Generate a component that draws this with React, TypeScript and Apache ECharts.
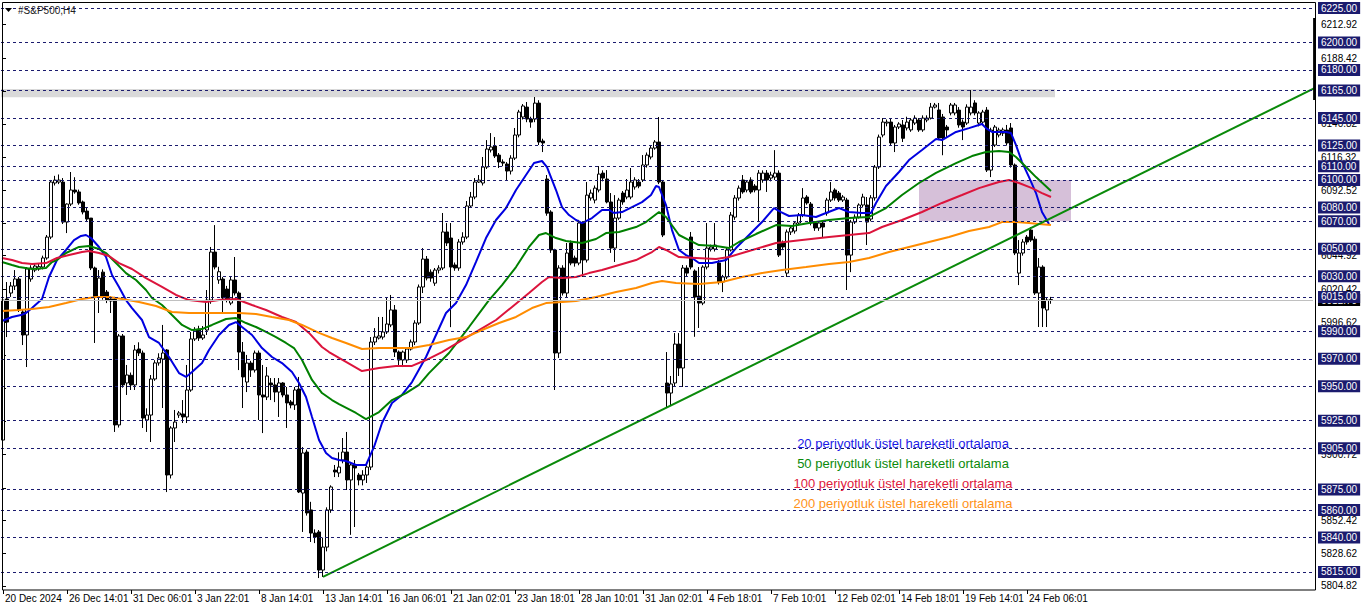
import React, { useEffect, useRef } from "react";
import * as echarts from "echarts";

const FONT = '"Liberation Sans", Arial, sans-serif';

// x-axis time labels, one every 16 bars
const timeLabels = [
  "20 Dec 2024", "26 Dec 14:01", "31 Dec 06:01", "3 Jan 22:01", "8 Jan 14:01",
  "13 Jan 14:01", "16 Jan 06:01", "21 Jan 02:01", "23 Jan 18:01", "28 Jan 10:01",
  "31 Jan 02:01", "4 Feb 18:01", "7 Feb 10:01", "12 Feb 02:01", "14 Feb 18:01",
  "19 Feb 14:01", "24 Feb 06:01",
];
const labelStep = 16;
const barSlots = 328;

// price scale
const yMin = 5801.9;
const yMax = 6229.4;
const levelPrices = [6225, 6200, 6180, 6165, 6145, 6125, 6110, 6100, 6080, 6070, 6050, 6030, 6015, 5990, 5970, 5950, 5925, 5905, 5875, 5860, 5840, 5815];
const autoTicks = [6212.92, 6188.42, 6164.62, 6140.82, 6116.32, 6092.52, 6068.72, 6044.92, 6020.42, 5996.62, 5972.82, 5948.32, 5924.52, 5900.72, 5876.22, 5852.42, 5828.62, 5804.82];
const autoLabels = [6212.92, 6188.42, 6140.82, 6116.32, 6092.52, 6044.92, 6020.42, 5996.62, 5900.72, 5852.42, 5828.62, 5804.82];
const bidPrice = 6012.7;

// H4 candles: [open, close, low, high]
const candles = [
  [5910.9, 6012.7, 5909, 6014], [6013.5, 5996.7, 5985.8, 6025.8], [6017.8, 6022.9, 6015, 6025.8], [6022.9, 6028, 6020, 6034.5],
  [6028, 6005.5, 6004, 6029.5], [6004, 5987.3, 5980, 6005.5], [5987.3, 6035.3, 5964, 6036.7], [6028, 6036, 6026, 6038],
  [6034.5, 6037.4, 6033, 6039], [6035.3, 6037, 6034, 6039], [6036.7, 6043.3, 6035, 6045], [6043.3, 6058.5, 6042, 6060],
  [6058.5, 6098.5, 6057, 6100], [6097.8, 6099.9, 6096, 6103], [6098.5, 6099.9, 6097, 6104], [6098.5, 6069.4, 6068, 6101.4],
  [6069.4, 6082.5, 6061.4, 6083], [6082.5, 6092.7, 6081, 6105.8], [6092.7, 6091.3, 6090, 6102], [6091.3, 6083.3, 6082, 6093],
  [6084, 6076.7, 6075, 6085], [6077.4, 6071.6, 6069.4, 6080.3], [6072.3, 6036, 6034.5, 6072.3], [6036, 6014.9, 5981.5, 6037],
  [6014.9, 6028.7, 6003.3, 6034.5], [6033, 6014.9, 6013, 6035], [6018.5, 6012.7, 6010.5, 6020], [6013.5, 6012, 6003.3, 6015.6],
  [6013.5, 5921.9, 5916.8, 6015], [5921.9, 5986.6, 5920, 5988], [5986.6, 5951, 5949, 5988], [5952.4, 5958.2, 5943.7, 5965.5],
  [5958, 5951, 5947.3, 5960], [5951, 5976.4, 5947.3, 5980], [5977.1, 5974.2, 5972, 5982], [5974.2, 5926.9, 5919.7, 5976],
  [5925.5, 5929.1, 5916.8, 5934], [5929.1, 5955.3, 5909.5, 5958.2], [5955.3, 5967, 5954, 5969], [5967, 5970.6, 5965, 5974],
  [5969.8, 5974.2, 5934.2, 5994.6], [5976.4, 5885.5, 5873.1, 5977], [5885.5, 5919.7, 5883, 5921], [5919.7, 5924, 5909.5, 5932.8],
  [5929.1, 5930.6, 5927, 5932], [5929.9, 5927.7, 5923.3, 5940], [5927.7, 5947.3, 5923.3, 5965.5], [5947.3, 5984.4, 5946, 5989.5],
  [5984.4, 5990.9, 5983, 5993], [5991.6, 5985.1, 5983, 5994], [5985.1, 5987.3, 5983.7, 5993.8], [5990.9, 6012.7, 5987.3, 6020],
  [6012.7, 6047.6, 6010, 6051.3], [6047.6, 6036.7, 6035, 6067.2], [6027.3, 6033.3, 6024.5, 6036.9], [6028, 6014.2, 6003.3, 6029.5],
  [6020.7, 6012.7, 6011, 6023], [6010.5, 6027.3, 6009, 6030], [6027.3, 6017.8, 6016, 6044], [6017.8, 5974.9, 5961.8, 6019],
  [5974.9, 5956.8, 5934.2, 5982.2], [5953.1, 5966.9, 5945.8, 5972.8], [5966.9, 5961.8, 5956.8, 5968.5], [5961.8, 5974.2, 5960, 5976],
  [5974.2, 5943.7, 5925.5, 5976], [5943.7, 5942.2, 5916, 5965.5], [5942.2, 5957.5, 5940, 5964], [5952.4, 5951, 5940, 5956],
  [5951, 5945.8, 5938.5, 5956], [5945.8, 5952.4, 5927.7, 5956], [5952.4, 5943.7, 5942, 5953], [5943.7, 5937.9, 5919.7, 5949.5],
  [5938.6, 5936.4, 5934, 5940], [5936.4, 5947.3, 5932.8, 5949.5], [5948, 5873.2, 5872.4, 5956.8], [5872.4, 5901.5, 5844.1, 5905.8],
  [5902.2, 5857.9, 5856, 5904], [5860.1, 5843.3, 5836.8, 5866], [5843.3, 5840.4, 5836, 5846], [5844.1, 5816.4, 5810.6, 5845.5],
  [5816.4, 5833.1, 5811.4, 5840], [5833.1, 5860.1, 5830, 5862], [5860.1, 5876.8, 5858, 5878], [5889.1, 5887.7, 5884, 5892.8],
  [5887, 5891.3, 5884, 5902], [5896.4, 5902.2, 5894, 5912.4], [5902.2, 5881.9, 5874.6, 5916.8], [5881.9, 5892.8, 5842, 5895],
  [5892.8, 5890.6, 5847.7, 5896.4], [5885.5, 5881.9, 5878, 5887], [5881.9, 5885.5, 5878, 5889], [5885.5, 5891.3, 5879.7, 5892.8],
  [5891.3, 5982.2, 5889.1, 5985.8], [5982.2, 5985.8, 5980, 5992.3], [5985.1, 5986.6, 5984, 6000.4], [5985.8, 5989.5, 5984, 6000.4],
  [5989.5, 5995.3, 5988, 6014.9], [5994.6, 6005.5, 5993, 6016.4], [6005.5, 5974.9, 5971.3, 6009.1], [5974.9, 5969.1, 5965.5, 5976],
  [5969.1, 5974.9, 5964, 5976], [5969.1, 5977.1, 5967, 5978], [5977.1, 5982.2, 5976, 5984], [5982.2, 5996, 5980, 5998],
  [5996, 6022.2, 5994.6, 6024], [6022.2, 6042.5, 6017.8, 6050.5], [6042.5, 6028.7, 6027, 6044.7], [6033, 6028.7, 6026, 6035],
  [6025, 6034.5, 6023, 6036], [6034.5, 6036, 6032, 6038], [6036, 6062.2, 6034.5, 6076], [6062.2, 6054.2, 6052, 6068.7],
  [6057.8, 6036.7, 5993, 6068.7], [6038.2, 6036, 6034, 6040], [6036, 6054.9, 6034, 6057], [6054.9, 6058.5, 6053, 6062],
  [6058.5, 6081.1, 6057, 6084.7], [6081.1, 6087.6, 6080, 6091.3], [6087.6, 6098.5, 6086, 6101.4], [6098.5, 6099.9, 6097.8, 6103.6],
  [6097.8, 6109.4, 6096, 6116.7], [6109.4, 6122.5, 6108, 6129], [6121.8, 6124, 6120, 6134.1], [6124.7, 6117.4, 6116, 6131.2],
  [6118.1, 6113.1, 6108.7, 6119.6], [6113.1, 6112.3, 6110, 6115], [6111.6, 6106.5, 6100, 6113], [6106.5, 6115.9, 6104, 6118],
  [6115.9, 6132.7, 6114.5, 6137.8], [6132.7, 6149.4, 6131, 6151], [6145.8, 6153.8, 6144, 6155.2], [6153, 6144.3, 6142, 6156.7],
  [6144.3, 6142.1, 6138, 6146], [6144.3, 6155.9, 6142, 6160.3], [6155.9, 6127.6, 6125.4, 6158], [6128.3, 6126.9, 6120.3, 6130],
  [6100.7, 6075.9, 6074, 6103.6], [6076.7, 6049.1, 6047, 6078], [6049.1, 5974.2, 5947.3, 6050], [5974.2, 6036, 5970.6, 6038],
  [6036, 6017.8, 6016, 6038], [6017.8, 6046.9, 6014.2, 6054.2], [6054.2, 6039.6, 6038, 6056], [6043.3, 6039.6, 6037, 6045],
  [6039.6, 6068.7, 6038, 6071], [6068.7, 6041.8, 6029.5, 6070], [6041.8, 6089, 6040, 6098.5], [6086.9, 6090.5, 6085, 6093],
  [6085.4, 6094.1, 6083, 6096], [6092.7, 6104.3, 6091, 6110.1], [6105, 6101.4, 6099, 6107], [6100.7, 6084, 6083, 6107.2],
  [6084, 6050.5, 6047, 6090.5], [6050.5, 6072.3, 6040.4, 6089], [6072.3, 6085.4, 6071, 6087], [6090.5, 6084, 6082, 6092],
  [6087.6, 6092.7, 6086, 6100.7], [6087.6, 6098.5, 6086, 6108.7], [6094.9, 6100, 6093, 6102], [6098.5, 6095.6, 6094, 6100.7],
  [6100, 6110.9, 6098.5, 6118.1], [6110.9, 6118.1, 6109, 6120], [6116.7, 6123.2, 6115, 6125], [6123.2, 6127.6, 6122, 6129],
  [6127.6, 6098.5, 6097, 6145.8], [6098.5, 6060, 6058.5, 6100], [5952.4, 5945.1, 5934.9, 5974.9], [5945.1, 5951.7, 5936.4, 5957.5],
  [5952.4, 5980.7, 5950, 5988.7], [5980.7, 5963.3, 5957.5, 5988.7], [5963.3, 6036, 5949.5, 6038.2], [6036, 6032.3, 6030, 6038],
  [6058.5, 6036.7, 6035, 6062.2], [6033.8, 6014.9, 5986, 6035], [6015.6, 6010.5, 5992.4, 6036.7], [6010.5, 6036.7, 6009, 6038],
  [6036.7, 6050.5, 6035, 6068.7], [6049.8, 6051.3, 6048, 6053], [6049.8, 6052.7, 6048, 6068.7], [6039.6, 6025.8, 6024, 6041.8],
  [6025.8, 6029.5, 6018.5, 6031], [6029.5, 6049.1, 6028, 6051], [6049.1, 6074.5, 6048, 6076.7], [6073, 6086.9, 6071, 6089],
  [6086.9, 6094.1, 6085, 6096], [6100, 6091.3, 6090, 6103.6], [6092.7, 6098.5, 6091, 6100], [6100, 6091.3, 6090, 6102],
  [6095.6, 6092.7, 6091, 6097], [6092.7, 6105, 6069.4, 6107.2], [6100, 6105, 6098, 6107], [6105, 6100, 6091.3, 6107.2],
  [6101.4, 6103.6, 6099, 6106], [6102.1, 6105, 6100, 6121.7], [6105, 6045.4, 6044, 6107], [6054.2, 6051.3, 6049, 6056],
  [6032.3, 6062.2, 6029.5, 6064], [6062.2, 6065.1, 6060, 6067], [6062.9, 6068.7, 6061, 6070], [6068.7, 6074.5, 6067, 6076],
  [6074.5, 6086.9, 6073, 6094.1], [6087.6, 6083.3, 6082, 6089], [6082.5, 6068.7, 6067, 6084], [6068.7, 6065.1, 6063, 6070],
  [6065.1, 6068.7, 6063, 6070], [6068.7, 6065.8, 6057.8, 6070], [6076, 6085.4, 6074, 6087], [6085.4, 6091.3, 6084, 6098.5],
  [6092.7, 6086.9, 6085, 6094], [6090.5, 6085.4, 6084, 6092], [6085.4, 6087.6, 6084, 6089], [6085.4, 6045.4, 6020, 6087],
  [6045.4, 6069.4, 6033, 6071], [6069.4, 6073, 6068, 6075], [6073, 6081.8, 6072, 6083], [6081.8, 6087.6, 6080, 6090],
  [6081.8, 6069.4, 6052.7, 6087.6], [6071.6, 6087, 6070, 6089], [6087, 6109.4, 6085, 6110.9], [6109.4, 6131.2, 6108, 6133],
  [6132.7, 6142.1, 6131, 6145], [6141.4, 6142.1, 6139, 6144], [6142.1, 6126.9, 6125, 6145], [6126.9, 6138.5, 6120.3, 6140],
  [6138.5, 6140.7, 6137, 6142], [6140, 6130.3, 6127.6, 6143.6], [6137.8, 6142.1, 6136, 6146], [6136.4, 6143.6, 6135, 6145],
  [6141.4, 6145, 6140, 6147], [6143.6, 6136.4, 6135, 6145], [6136.4, 6145, 6135, 6147], [6143.6, 6145, 6142, 6147],
  [6145, 6153, 6144, 6156], [6153, 6154.5, 6152, 6156], [6150.9, 6130.5, 6129, 6156], [6145.8, 6130.5, 6118, 6148],
  [6138.5, 6136.4, 6131, 6140], [6148.7, 6154.5, 6147, 6156], [6148.7, 6154.5, 6147, 6156], [6150.8, 6140, 6138, 6153],
  [6142.1, 6138.5, 6129, 6144], [6141.4, 6153, 6140, 6155], [6148.7, 6153, 6147, 6165.4], [6156, 6148.7, 6147, 6158],
  [6141.4, 6148.7, 6139, 6150], [6142.1, 6149.4, 6140, 6151], [6150.8, 6107.2, 6105.8, 6153], [6107.2, 6136.3, 6102.1, 6138],
  [6125.4, 6138.5, 6124, 6140], [6132.7, 6136.3, 6131, 6138], [6134, 6136.4, 6132, 6138], [6136.3, 6126.9, 6125, 6140],
  [6137.8, 6110.9, 6109, 6141.4], [6110.9, 6046.9, 6045.4, 6112], [6032.3, 6046.9, 6023.6, 6056.3], [6046.9, 6054.9, 6045, 6057],
  [6058.5, 6054.9, 6053, 6060], [6063.6, 6056.3, 6055, 6065.8], [6057, 6017.8, 6016.4, 6059], [6017.8, 6036.7, 5993.1, 6043.3],
  [6036.7, 6006.9, 5993.1, 6038], [6005.5, 6012.7, 5993.1, 6014.9], [6012.7, 6013, 6010, 6015],
];

// exponential moving averages: [bar index, price]
const ema20 = [
  [-0.25, 5997.5], [2.25, 6000.4], [4.5, 6001.8], [5.75, 6003.3], [7.25, 6006.9], [9.75, 6013.5], [11.5, 6029.5], [13.5, 6041.8],
  [15.75, 6049.1], [17.75, 6056.3], [19.5, 6059.3], [20.75, 6060.0], [22, 6057.8], [24, 6051.3], [25.75, 6044.0], [27.25, 6030.9],
  [29, 6022.2], [30.75, 6012.7], [32.25, 6006.9], [34.75, 5998.2], [36.5, 5985.8], [39, 5981.5], [41.5, 5971.3], [44, 5959.6],
  [45.75, 5956.8], [47.25, 5960.4], [49.75, 5966.9], [51.5, 5976.4], [54, 5987.3], [56.5, 5994.6], [58.25, 5996.7], [59.75, 5993.1],
  [62.25, 5987.3], [64.75, 5977.8], [67.25, 5971.3], [69.75, 5966.9], [72.25, 5960.4], [74, 5952.4], [75.75, 5942.2], [77.25, 5927.7],
  [79, 5911.0], [80.75, 5901.5], [82.25, 5897.9], [84, 5896.4], [85.75, 5895.7], [88.25, 5892.8], [90.75, 5892.8], [92.75, 5905.9],
  [94.75, 5923.3], [97.25, 5937.9], [99.75, 5943.7], [102.25, 5953.1], [105.75, 5971.3], [110.75, 6003.3], [113.25, 6010.5],
  [115.75, 6023.6], [118.25, 6040.4], [120.75, 6057.8], [123.25, 6070.9], [125.75, 6079.6], [128.25, 6092.7], [130.75, 6103.6],
  [132.75, 6112.3], [134.75, 6113.8], [136, 6109.4], [138.25, 6092.7], [139.75, 6080.3], [141.5, 6074.5], [143.25, 6070.9],
  [144.75, 6068.7], [147.25, 6072.3], [149.75, 6078.2], [151.5, 6078.2], [152.75, 6076.0], [154.75, 6076.7], [157.25, 6080.3],
  [159.75, 6083.9], [162, 6089.1], [163.25, 6095.6], [164, 6094.9], [165.75, 6081.8], [167.25, 6063.6], [169, 6049.1],
  [170.75, 6045.4], [172.25, 6043.3], [174, 6039.6], [177.25, 6039.6], [180.75, 6041.8], [183.25, 6050.5], [186.5, 6060.0],
  [189.75, 6069.4], [192.75, 6079.6], [194.5, 6076.7], [196.5, 6073.8], [199.75, 6074.5], [203.25, 6073.1], [205.75, 6076.0],
  [209, 6079.6], [211.5, 6076.7], [214.75, 6076.0], [217, 6076.0], [218.25, 6083.3], [220.75, 6095.6], [224, 6105.8],
  [226.5, 6114.5], [229.75, 6121.8], [233.25, 6129.8], [234.75, 6129.0], [238.25, 6134.9], [241.5, 6137.7], [244.75, 6140.7],
  [245.75, 6137.7], [247.25, 6134.9], [250.75, 6134.9], [252, 6134.1], [253.25, 6125.4], [254.75, 6113.0], [256.5, 6102.1],
  [258.25, 6090.5], [259.75, 6076.7], [261.5, 6068.0],
];
const ema50 = [
  [-0.25, 6040.4], [2.25, 6038.2], [4, 6036.7], [7.25, 6035.3], [10.75, 6036.0], [12.25, 6040.4], [13.5, 6041.8], [15.75, 6046.9],
  [19, 6051.3], [21.5, 6052.0], [24, 6049.8], [25.75, 6046.9], [28.25, 6039.6], [30.75, 6032.3], [33.25, 6027.3], [35.75, 6020.0],
  [37.25, 6014.2], [39.75, 6009.1], [42.25, 6001.8], [44.75, 5994.6], [47.25, 5990.9], [49.75, 5991.6], [52.25, 5994.6],
  [55.75, 5998.9], [58.25, 5999.6], [60.75, 5996.0], [63.25, 5993.1], [65.75, 5989.5], [68.25, 5985.8], [70.75, 5981.5],
  [72.75, 5977.8], [74.75, 5969.1], [77.25, 5954.6], [79.75, 5945.1], [82.25, 5940.0], [84, 5937.1], [88.25, 5930.6],
  [90.75, 5926.2], [94, 5931.3], [97.25, 5940.0], [100.75, 5945.1], [104, 5951.0], [106.5, 5959.6], [111.5, 5974.2],
  [116.5, 5993.1], [121.5, 6012.7], [124.75, 6023.6], [128.25, 6036.7], [131.5, 6051.3], [134, 6060.0], [135.75, 6061.4],
  [138.25, 6057.8], [140.75, 6055.6], [144.75, 6054.2], [148.25, 6057.1], [150.75, 6061.4], [154, 6062.2], [158.25, 6065.8],
  [160.75, 6069.4], [164, 6076.7], [165.75, 6073.1], [169, 6060.0], [171.5, 6056.3], [174, 6052.7], [178.25, 6052.0],
  [181.5, 6050.5], [184, 6054.9], [188.25, 6060.7], [193.25, 6067.2], [197.25, 6066.5], [201.5, 6068.7], [206.5, 6070.9],
  [211.5, 6072.3], [216.5, 6073.1], [220.75, 6079.6], [224.75, 6089.1], [229, 6097.8], [233.25, 6105.1], [238.25, 6112.3],
  [242.25, 6117.4], [245.75, 6120.3], [249, 6121.0], [251.5, 6120.3], [253.25, 6116.7], [255.75, 6109.4], [258.25, 6102.1],
  [262, 6092.0],
];
const ema100 = [
  [-0.25, 6043.3], [2.25, 6041.8], [4.75, 6039.6], [7.25, 6038.9], [10.75, 6039.6], [13.5, 6043.3], [16.5, 6045.4], [19.75, 6047.6],
  [21.5, 6048.4], [24, 6046.9], [26.5, 6044.7], [29, 6039.6], [32.25, 6035.3], [35.75, 6028.7], [39.75, 6022.2], [43.25, 6016.4],
  [46.5, 6012.7], [50.75, 6011.3], [54, 6012.7], [58.25, 6013.5], [62.25, 6009.1], [65.75, 6005.5], [69.75, 6000.4],
  [73.25, 5996.7], [76.5, 5988.8], [79.75, 5978.6], [81.5, 5974.9], [84, 5970.6], [85.75, 5967.7], [89.75, 5961.1], [94, 5963.3],
  [98.25, 5964.8], [102.25, 5964.8], [105.75, 5969.1], [109.75, 5974.9], [114.75, 5983.6], [119, 5990.9], [123.25, 5998.2],
  [127.25, 6007.7], [131.5, 6017.8], [134.75, 6025.8], [136.5, 6029.5], [139.75, 6028.7], [143.25, 6029.5], [146.5, 6032.3],
  [149.75, 6034.5], [154, 6038.2], [158.25, 6041.8], [162.25, 6047.6], [164, 6051.3], [165.75, 6049.1], [169, 6044.0],
  [173.25, 6043.3], [178.25, 6042.5], [181.5, 6044.0], [186.5, 6048.4], [193.25, 6054.2], [199.75, 6056.3], [206.5, 6058.5],
  [211.5, 6060.0], [216.5, 6061.4], [219.75, 6065.8], [224.75, 6070.9], [229.75, 6076.7], [234.75, 6083.3], [239.75, 6089.1],
  [244, 6094.1], [246.5, 6096.3], [249, 6098.5], [251.5, 6100.0], [254, 6097.8], [257.25, 6094.1], [259.75, 6090.5], [262, 6087.6],
];
const ema200 = [
  [-0.25, 6004.7], [4, 6005.5], [7.25, 6006.2], [11.5, 6007.7], [15.75, 6010.5], [19.75, 6013.5], [23.25, 6014.9], [26.5, 6014.9],
  [29.75, 6013.5], [34, 6011.3], [38.25, 6008.4], [42.25, 6004.0], [46.5, 6003.3], [50.75, 6003.3], [54.75, 6003.3], [59, 6003.3],
  [63.25, 6002.5], [67.25, 6000.4], [71.5, 5998.2], [74.75, 5994.6], [79, 5988.8], [82.25, 5985.1], [85.75, 5981.5],
  [89.75, 5977.1], [94, 5977.8], [98.25, 5977.8], [102.25, 5977.8], [106.5, 5980.0], [111.5, 5983.6], [115.75, 5985.8],
  [119.75, 5990.9], [124, 5996.0], [128.25, 6000.4], [132.25, 6006.9], [135.75, 6010.5], [139.75, 6011.3], [143.25, 6012.0],
  [148.25, 6014.9], [153.25, 6018.5], [158.25, 6021.5], [162.25, 6025.1], [164.75, 6026.5], [168.25, 6025.1], [174, 6024.4],
  [179.75, 6025.8], [184.75, 6029.5], [189.75, 6032.3], [194.75, 6034.5], [200.75, 6036.7], [206.5, 6038.9], [211.5, 6040.4],
  [216.5, 6043.3], [221.5, 6047.6], [226.5, 6051.3], [231.5, 6054.9], [236.5, 6058.5], [241.5, 6062.9], [246.5, 6065.8],
  [249.75, 6069.4], [253.25, 6069.4], [256.5, 6068.7], [259, 6068.0], [262, 6067.2],
];

// drawn objects
const trendLine = [[80, 5811.4], [328.25, 6167.3]];
const grayBandX = [-0.5, 263];
const grayBandY = [6160.2, 6166.1];
const boxX = [229, 267];
const boxY = [6070, 6100];
const rightBar = [[327.9, 6217.7], [327.9, 6158.1]];

const maNotes = [
  { text: "20 periyotluk üstel hareketli ortalama", color: "#1a1ae6" },
  { text: "50 periyotluk üstel hareketli ortalama", color: "#0a8a0a" },
  { text: "100 periyotluk üstel hareketli ortalama", color: "#e0203c" },
  { text: "200 periyotluk üstel hareketli ortalama", color: "#ff9218" },
];
const maColors = ["#0000e0", "#008000", "#dc143c", "#ff8c00"];

export default function App() {
  const ref = useRef<HTMLDivElement>(null);
  useEffect(() => {
    if (!ref.current) return;
    const chart = echarts.init(ref.current, null, { renderer: "svg" });
    const categories = Array.from({ length: barSlots }, (_, i) =>
      i % labelStep === 0 && timeLabels[i / labelStep] ? timeLabels[i / labelStep] : ""
    );
    const showLabel = (i: number) => i % labelStep === 0 && i / labelStep < timeLabels.length;
    const yBase = {
      type: "value",
      min: yMin,
      max: yMax,
      position: "right",
      offset: 3,
      axisLine: { show: false },
      splitLine: { show: false },
    };
    const emaSets = [ema20, ema50, ema100, ema200];
    const option: any = {
      animation: false,
      backgroundColor: "#ffffff",
      grid: { left: 1, top: 2, width: 1312, height: 588, show: false, outerBoundsMode: "none" },
      xAxis: [
        {
          type: "category",
          data: categories,
          boundaryGap: true,
          axisLine: { show: false },
          splitLine: { show: false },
          axisTick: { show: true, alignWithLabel: true, interval: (i: number) => showLabel(i), length: 4, lineStyle: { color: "#000" } },
          axisLabel: {
            interval: (i: number) => showLabel(i),
            align: "left",
            margin: 3,
            padding: [0, 0, 0, 2],
            color: "#000",
            fontFamily: FONT,
            fontSize: 10,
          },
        },
        { type: "value", min: -0.5, max: barSlots - 0.5, show: false },
      ],
      yAxis: [
        {
          ...yBase,
          z: 1,
          axisTick: { show: true, customValues: autoTicks, length: 3, lineStyle: { color: "#000" } },
          axisLabel: {
            customValues: autoLabels,
            hideOverlap: false,
            formatter: (v: number) => v.toFixed(2),
            color: "#000",
            fontFamily: FONT,
            fontSize: 10,
            margin: 5,
          },
        },
        {
          ...yBase,
          z: 2,
          axisTick: { show: false },
          axisLabel: {
            customValues: [bidPrice],
            hideOverlap: false,
            formatter: (v: number) => v.toFixed(2),
            color: "#fff",
            backgroundColor: "#000",
            padding: [1, 3, 1, 3],
            fontFamily: FONT,
            fontSize: 10,
            margin: 2,
          },
        },
        {
          ...yBase,
          z: 3,
          axisTick: { show: false },
          axisLabel: {
            customValues: levelPrices,
            hideOverlap: false,
            formatter: (v: number) => v.toFixed(2),
            color: "#fff",
            backgroundColor: "#1b1b6e",
            padding: [1, 3, 1, 3],
            fontFamily: FONT,
            fontSize: 10,
            margin: 2,
          },
        },
      ],
      series: [
        {
          type: "line",
          xAxisIndex: 1,
          yAxisIndex: 0,
          data: [],
          z: 1,
          silent: true,
          markArea: {
            silent: true,
            data: [
              [
                { xAxis: grayBandX[0], yAxis: grayBandY[1], itemStyle: { color: "#d9d9d9" } },
                { xAxis: grayBandX[1], yAxis: grayBandY[0] },
              ],
              [
                { xAxis: boxX[0], yAxis: boxY[1], itemStyle: { color: "#d6c0d9" } },
                { xAxis: boxX[1], yAxis: boxY[0] },
              ],
            ],
          },
          markLine: {
            silent: true,
            symbol: ["none", "none"],
            label: { show: false },
            data: [
              { yAxis: bidPrice, lineStyle: { type: "solid", color: "#c0c0c0", width: 1 } },
              ...levelPrices.map((v) => ({ yAxis: v, lineStyle: { type: [3, 3], color: "#1b1b6e", width: 1 } })),
            ],
          },
        },
        {
          type: "candlestick",
          xAxisIndex: 0,
          yAxisIndex: 0,
          data: candles,
          barWidth: 3,
          z: 2,
          itemStyle: {
            color: "#ffffff",
            color0: "#000000",
            borderColor: "#000000",
            borderColor0: "#000000",
            borderColorDoji: "#000000",
            borderWidth: 1,
          },
        },
        ...emaSets.map((d, k) => ({
          type: "line",
          xAxisIndex: 1,
          yAxisIndex: 0,
          data: d,
          showSymbol: false,
          symbol: "none",
          z: 3,
          lineStyle: { color: maColors[k], width: 2 },
        })),
        {
          type: "line",
          xAxisIndex: 1,
          yAxisIndex: 0,
          data: trendLine,
          showSymbol: false,
          symbol: "none",
          clip: false,
          z: 4,
          lineStyle: { color: "#0a8a0a", width: 2 },
        },
        {
          type: "line",
          xAxisIndex: 1,
          yAxisIndex: 0,
          data: rightBar,
          showSymbol: false,
          symbol: "none",
          clip: false,
          z: 5,
          lineStyle: { color: "#000", width: 3 },
        },
      ],
      graphic: [
        {
          type: "rect",
          z: 50,
          silent: true,
          shape: { x: 2.5, y: 2.5, width: 1313, height: 587.5 },
          style: { fill: "none", stroke: "#000", lineWidth: 1 },
        },
        {
          type: "polygon",
          z: 60,
          shape: { points: [[5, 8], [12, 8], [8.5, 12]] },
          style: { fill: "#000" },
        },
        {
          type: "text",
          z: 60,
          x: 18,
          y: 10,
          style: { text: "#S&P500,H4", fill: "#222", font: `10px ${FONT}`, verticalAlign: "middle", textAlign: "left" },
        },
        ...maNotes.map((n, k) => ({
          type: "text",
          z: 60,
          x: 903,
          y: 443 + k * 20,
          style: { text: n.text, fill: n.color, font: `13px ${FONT}`, verticalAlign: "middle", textAlign: "center" },
        })),
      ],
    };
    chart.setOption(option);
    return () => chart.dispose();
  }, []);
  return (
    <div
      ref={ref}
      style={{ position: "fixed", left: 0, top: 0, width: 1362, height: 611, background: "#fff" }}
    />
  );
}
